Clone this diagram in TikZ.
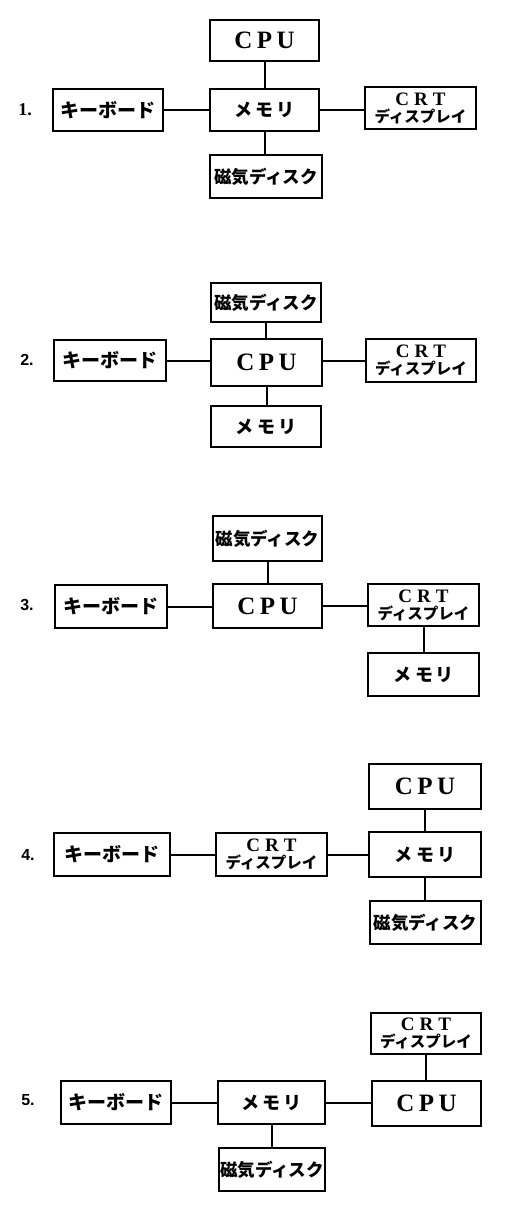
\documentclass[tikz,border=0pt]{standalone}
\usepackage{fontspec}
\setmainfont{Liberation Serif}
\newfontfamily\jp{Noto Sans CJK JP}
\newfontfamily\lsans{Liberation Sans}
\newcommand\cputext{{\fontsize{25}{27}\selectfont\bfseries C\hspace{4.5pt}P\hspace{4.5pt}U}}
\newcommand\kbtext{{\jp\bfseries\fontsize{19}{21}\selectfont キーボード}}
\newcommand\memtext{{\jp\bfseries\fontsize{18}{20}\selectfont メ\hspace{4pt}モ\hspace{3pt}リ}}
\newcommand\disktext{{\jp\bfseries\fontsize{17.5}{20}\selectfont 磁気ディスク}}
\newcommand\crttext{{\bfseries\fontsize{19}{18}\selectfont C\hspace{5pt}R\hspace{5pt}T}\\{\jp\bfseries\fontsize{15.5}{17}\selectfont ディスプレイ}}
\tikzset{
  box/.style 2 args={draw, line width=2.6pt, inner sep=0pt, align=center,
    minimum width=#1pt, minimum height=#2pt},
  crtbox/.style={font=\fontsize{15}{17}\selectfont},
  link/.style={line width=2pt},
  numlabel/.style={inner sep=0pt, font=\lsans\bfseries\fontsize{16}{18}\selectfont}
}
\begin{document}
\begin{tikzpicture}[x=1pt,y=-1pt]
\useasboundingbox[fill=white] (0,0) rectangle (506,1215);
% ---- 1 ----
\node[inner sep=0pt, font=\bfseries\fontsize{18}{20}\selectfont] (n1) at (25,110) {1.};
\node[box={109}{41}] (cpu1) at (264.5,40.5) {\cputext};
\node[box={109}{42}] (mem1) at (264.5,110) {\memtext};
\node[box={110}{42}] (kb1) at (108,110) {\kbtext};
\node[box={111}{42}, crtbox] (crt1) at (420.5,108) {\crttext};
\node[box={112}{43}] (disk1) at (266,176.5) {\disktext};
\draw[link] (cpu1.south) -- (mem1.north);
\draw[link] (mem1.south) -- (mem1.south |- disk1.north);
\draw[link] (kb1.east) -- (mem1.west);
\draw[link] (mem1.east) -- (mem1.east -| crt1.west);
% ---- 2 ----
\node[numlabel] (n2) at (27,360) {2.};
\node[box={110}{39}] (disk2) at (266,302.5) {\disktext};
\node[box={112}{41}] (kb2) at (110,360.5) {\kbtext};
\node[box={111}{47}] (cpu2) at (266.5,362.5) {\cputext};
\node[box={110}{43}, crtbox] (crt2) at (421,360.5) {\crttext};
\node[box={110}{41}] (mem2) at (266,426.5) {\memtext};
\draw[link] (disk2.south) -- (disk2.south |- cpu2.north);
\draw[link] (cpu2.south) -- (cpu2.south |- mem2.north);
\draw[link] (kb2.east) -- (kb2.east -| cpu2.west);
\draw[link] (crt2.west) -- (crt2.west -| cpu2.east);
% ---- 3 ----
\node[numlabel] (n3) at (27,605) {3.};
\node[box={109}{45}] (disk3) at (267.5,538.5) {\disktext};
\node[box={112}{43}] (kb3) at (111,606.5) {\kbtext};
\node[box={109}{44}] (cpu3) at (267.5,606) {\cputext};
\node[box={111}{42}, crtbox] (crt3) at (423.5,605) {\crttext};
\node[box={111}{43}] (mem3) at (423.5,674.5) {\memtext};
\draw[link] (disk3.south) -- (cpu3.north);
\draw[link] (kb3.east) -- (kb3.east -| cpu3.west);
\draw[link] (cpu3.east) -- (cpu3.east -| crt3.west);
\draw[link] (crt3.south) -- (mem3.north);
% ---- 4 ----
\node[numlabel] (n4) at (28,855) {4.};
\node[box={112}{45}] (cpu4) at (425,786.5) {\cputext};
\node[box={116}{43}] (kb4) at (112,854.5) {\kbtext};
\node[box={111}{43}, crtbox] (crt4) at (271.5,854.5) {\crttext};
\node[box={112}{45}] (mem4) at (425,854.5) {\memtext};
\node[box={111}{43}] (disk4) at (425.5,922.5) {\disktext};
\draw[link] (cpu4.south) -- (mem4.north);
\draw[link] (mem4.south) -- (mem4.south |- disk4.north);
\draw[link] (kb4.east) -- (crt4.west);
\draw[link] (crt4.east) -- (mem4.west);
% ---- 5 ----
\node[numlabel] (n5) at (28,1100) {5.};
\node[box={110}{41}, crtbox] (crt5) at (426,1033.5) {\crttext};
\node[box={110}{43}] (kb5) at (116,1102.5) {\kbtext};
\node[box={107}{43}] (mem5) at (271.5,1102.5) {\memtext};
\node[box={109}{45}] (cpu5) at (426.5,1103.5) {\cputext};
\node[box={106}{43}] (disk5) at (272,1169.5) {\disktext};
\draw[link] (crt5.south) -- (crt5.south |- cpu5.north);
\draw[link] (kb5.east) -- (mem5.west);
\draw[link] (mem5.east) -- (mem5.east -| cpu5.west);
\draw[link] (mem5.south) -- (mem5.south |- disk5.north);
\end{tikzpicture}
\end{document}
